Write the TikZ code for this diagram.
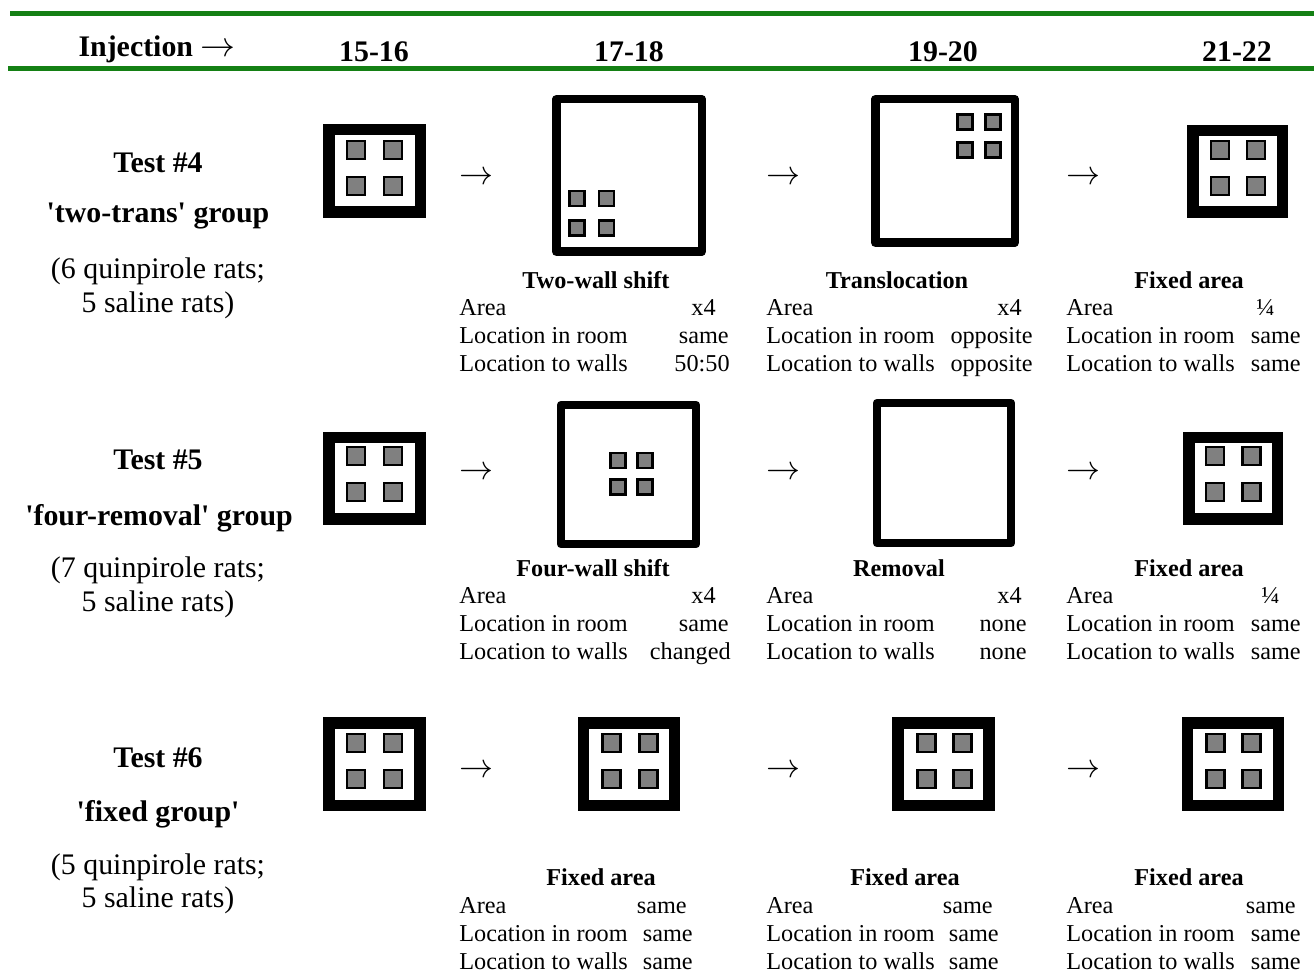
\documentclass[tikz,border=0pt]{standalone}
\usepackage{fontspec}
\setmainfont{Liberation Serif}
\usepackage{tikz}
\usetikzlibrary{positioning}

\definecolor{rulegreen}{RGB}{20,128,20}
\definecolor{blockgray}{RGB}{128,128,128}
\newcommand{\px}{0.02cm}

\tikzset{
  greenrule/.style={draw=rulegreen, line width=5*\px},
  hdr/.style={font=\fontsize{17}{20}\selectfont\bfseries, inner sep=0pt, anchor=base},
  grp/.style={font=\fontsize{17}{20}\selectfont, inner sep=0pt, anchor=base},
  grpbold/.style={grp, font=\fontsize{17}{20}\selectfont\bfseries},
  ttl/.style={font=\fontsize{13.8}{16}\selectfont\bfseries, inner sep=0pt, anchor=base},
  cell/.style={font=\fontsize{13.8}{16}\selectfont, inner sep=0pt},
  stepto/.style={font=\fontsize{17}{20}\selectfont, inner sep=0pt, scale=1.12},
  cage/.style={draw, line width=11.5*\px, inner sep=0pt},
  bigcage/.style={draw, line width=8.5*\px, line join=round, inner sep=0pt},
  block/.style={draw, fill=blockgray, line width=2.5*\px, inner sep=0pt}
}

% four objects inside a cage: name, x1, x2, y1, y2, size
\newcommand{\fourblocks}[6]{%
  \foreach \bx/\by [count=\k] in {#2/#4, #3/#4, #2/#5, #3/#5}
    \node[block, minimum size=#6*\px] (#1-\k) at (\bx,\by) {};%
}

% condition table: name, label x, first baseline, value/right-edge list
\newcommand{\conds}[4]{%
  \foreach \lab [count=\k] in {Area, Location in room, Location to walls}
    \node[cell, anchor=base west] (#1-l\k) at (#2, {#3+28*(\k-1)}) {\lab};
  \foreach \val/\vx [count=\k] in {#4}
    \node[cell, anchor=base east] (#1-v\k) at (\vx, {#3+28*(\k-1)}) {\val};%
}

\begin{document}
\begin{tikzpicture}[x=0.02cm, y=-0.02cm]
    \useasboundingbox (0,0) rectangle (1314,972);

    % Header with the injection days
    \draw[greenrule] (10,14) -- (1314,14);
    \draw[greenrule] (8,69) -- (1314,69);
    \node[hdr] (inj) at (157,57) {Injection \mdseries\scalebox{1.15}{$\rightarrow$}};
    \foreach \x/\d [count=\i] in {374/15-16, 629/17-18, 943/19-20, 1237/21-22}
      \node[hdr] (day\i) at (\x,62) {\d};

    % Test #4
    \node[grpbold] (t4) at (158,173) {Test \#4};
    \node[grpbold] (t4-grp) at (158,223) {\textquotesingle two-trans\textquotesingle{} group};
    \node[grp] (t4-n1) at (158,279) {(6 quinpirole rats;};
    \node[grp] (t4-n2) at (158,313) {5 saline rats)};

    \node[cage, minimum width=91.5*\px, minimum height=82.5*\px] (t4a) at (374.5,171) {};
    \fourblocks{t4a}{356}{393}{150}{186}{18}
    \node[bigcage, minimum width=145.5*\px, minimum height=152.5*\px] (t4b) at (629,175.5) {};
    \fourblocks{t4b}{577}{606.5}{198.5}{228}{15}
    \node[bigcage, minimum width=139.5*\px, minimum height=143.5*\px] (t4c) at (945,171) {};
    \fourblocks{t4c}{965}{993}{122}{150}{15}
    \node[cage, minimum width=89.5*\px, minimum height=81.5*\px] (t4d) at (1237.5,171.5) {};
    \fourblocks{t4d}{1220}{1256}{150}{186}{18}

    \foreach \x [count=\i] in {476, 783, 1083}
      \node[stepto] (t4-to\i) at (\x,178) {$\rightarrow$};

    \node[ttl] (t4b-ttl) at (596,289) {Two-wall shift};
    \node[ttl] (t4c-ttl) at (897,289) {Translocation};
    \node[ttl] (t4d-ttl) at (1189,289) {Fixed area};
    \conds{t4b}{459}{316}{x4/716, same/729, 50:50/730}
    \conds{t4c}{766}{316}{x4/1022, opposite/1033, opposite/1033}
    \conds{t4d}{1066}{316}{¼/1275, same/1301, same/1301}

    % Test #5
    \node[grpbold] (t5) at (158,470) {Test \#5};
    \node[grpbold] (t5-grp) at (159,525) {\textquotesingle four-removal\textquotesingle{} group};
    \node[grp] (t5-n1) at (158,577) {(7 quinpirole rats;};
    \node[grp] (t5-n2) at (158,611) {5 saline rats)};

    \node[cage, minimum width=91.5*\px, minimum height=81.5*\px] (t5a) at (374.5,478.5) {};
    \fourblocks{t5a}{356}{393}{456}{492}{18}
    \node[bigcage, minimum width=135*\px, minimum height=139*\px] (t5b) at (628.5,474.5) {};
    \fourblocks{t5b}{618}{645}{460.5}{487}{15}
    \node[bigcage, minimum width=134*\px, minimum height=140*\px] (t5c) at (944,473) {};
    \node[cage, minimum width=88.5*\px, minimum height=81.5*\px] (t5d) at (1233,478.5) {};
    \fourblocks{t5d}{1215}{1251.5}{456}{492}{18}

    \foreach \x [count=\i] in {476, 783, 1083}
      \node[stepto] (t5-to\i) at (\x,473) {$\rightarrow$};

    \node[ttl] (t5b-ttl) at (593,576) {Four-wall shift};
    \node[ttl] (t5c-ttl) at (899,576) {Removal};
    \node[ttl] (t5d-ttl) at (1189,576) {Fixed area};
    \conds{t5b}{459}{603}{x4/716, same/729, changed/731}
    \conds{t5c}{766}{603}{x4/1022, none/1027, none/1027}
    \conds{t5d}{1066}{603}{¼/1280, same/1301, same/1301}

    % Test #6
    \node[grpbold] (t6) at (158,767) {Test \#6};
    \node[grpbold] (t6-grp) at (158,821) {\textquotesingle fixed group\textquotesingle};
    \node[grp] (t6-n1) at (158,874) {(5 quinpirole rats;};
    \node[grp] (t6-n2) at (158,907) {5 saline rats)};

    \foreach \x/\a/\b/\nm in {374.5/356/393/t6a, 629/611.5/648.5/t6b, 943.5/926.5/962.5/t6c, 1233/1215.5/1251.5/t6d} {
      \node[cage, minimum width=91*\px, minimum height=82.5*\px] (\nm) at (\x,764) {};
      \fourblocks{\nm}{\a}{\b}{743}{779}{18}
    }

    \foreach \x [count=\i] in {476, 783, 1083}
      \node[stepto] (t6-to\i) at (\x,771) {$\rightarrow$};

    \node[ttl] (t6b-ttl) at (601,885) {Fixed area};
    \node[ttl] (t6c-ttl) at (905,885) {Fixed area};
    \node[ttl] (t6d-ttl) at (1189,885) {Fixed area};
    \conds{t6b}{459}{913}{same/687, same/693, same/693}
    \conds{t6c}{766}{913}{same/993, same/999, same/999}
    \conds{t6d}{1066}{913}{same/1296, same/1301, same/1301}
\end{tikzpicture}
\end{document}
